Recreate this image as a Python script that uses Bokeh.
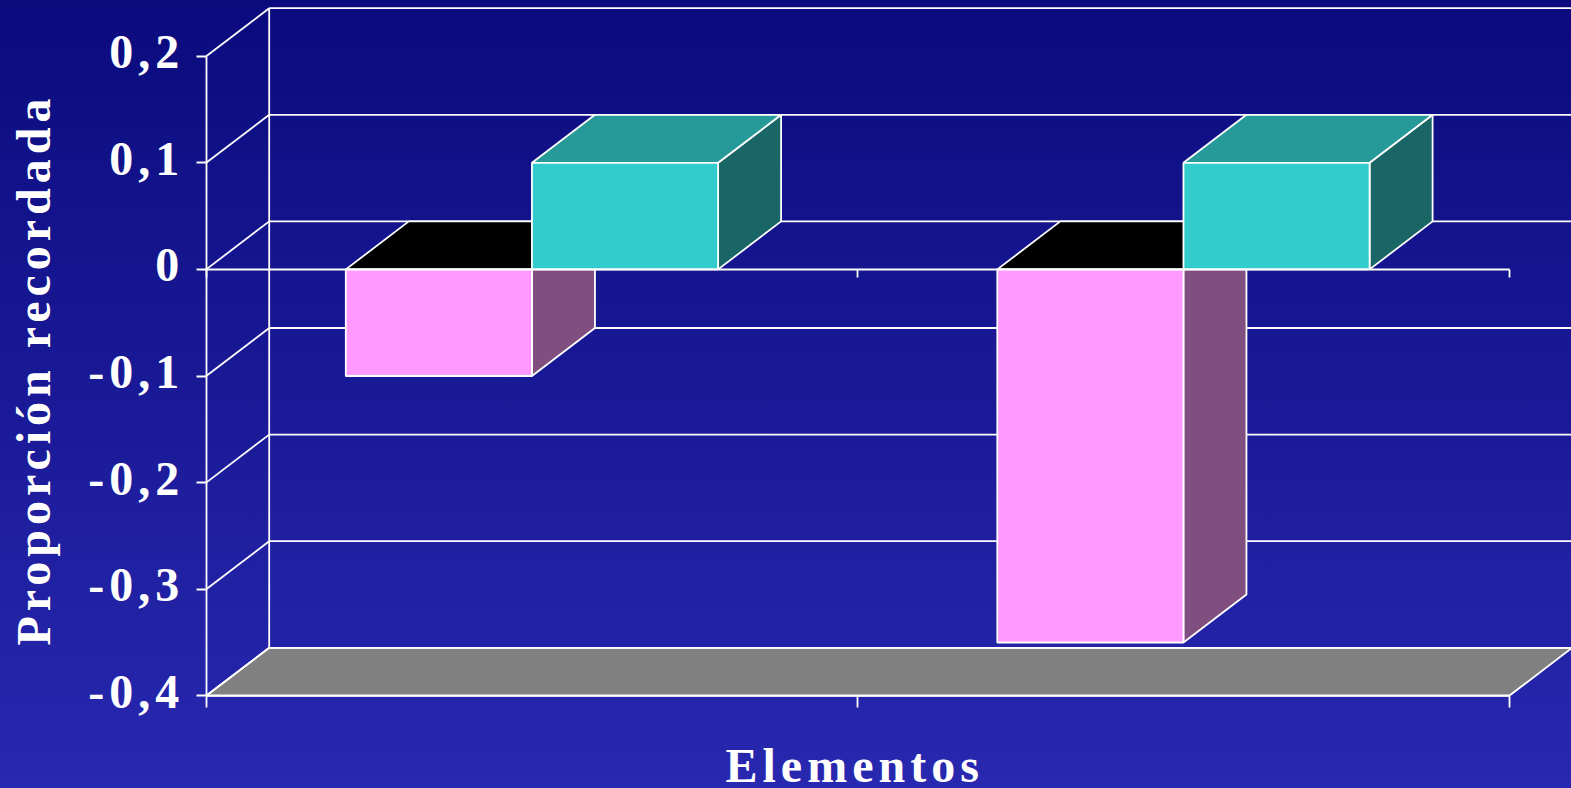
import math
from bokeh.plotting import figure
from bokeh.models import LinearAxis, FixedTicker, Range1d, Label
from bokeh.embed import file_html
from bokeh.resources import INLINE

categories = ["1", "2"]
pink_values = [-0.1, -0.35]
teal_values = [0.1, 0.1]
y_ticks = [0.2, 0.1, 0.0, -0.1, -0.2, -0.3, -0.4]
y_tick_labels = ["0,2", "0,1", "0", "-0,1", "-0,2", "-0,3", "-0,4"]
x_title = "Elementos"
y_title = "Proporción recordada"

PINK, PINK_SIDE, PINK_TOP = "#FF99FF", "#804F80", "#000000"
TEAL, TEAL_SIDE, TEAL_TOP = "#33CCCC", "#1A6666", "#269999"
FLOOR = "#808080"
WHITE = "#FFFFFF"
SERIF = "Liberation Serif"

PX_X = 651.5
PX_Y = 1066.0
W, H = 1571, 788
X0_PX = 205.7
Y_BOTTOM_PX = 695.3
DX = 63 / PX_X
DY = 48 / PX_Y
BAR = 1 / 3.5
GAP = 0.75 * BAR
Y_MIN, Y_MAX = -0.4, 0.2
LETTER = 5
FS = "48px"
LABEL_RAISE = 4 / PX_Y


def px_x(px):
    return (px - X0_PX) / PX_X


def px_y(px):
    return Y_MIN + (Y_BOTTOM_PX - px) / PX_Y


p = figure(
    width=W, height=H, output_backend="svg", toolbar_location=None,
    x_range=Range1d(px_x(0), px_x(W)),
    y_range=Range1d(px_y(H), px_y(0)),
    x_axis_type=None, y_axis_type=None,
    min_border=0,
    background_fill_alpha=0, border_fill_alpha=0, outline_line_color=None,
    styles={
        "position": "fixed", "left": "0px", "top": "0px",
        "background": "linear-gradient(180deg, #0B0B7E 0%, #2828B0 100%)",
        "letter-spacing": f"{LETTER}px",
    },
)
p.xgrid.visible = False
p.ygrid.visible = False

LW = 1.8
n_cat = len(categories)

# floor
p.patch([0, n_cat, n_cat + DX, DX], [Y_MIN, Y_MIN, Y_MIN + DY, Y_MIN + DY],
        fill_color=FLOOR, line_color=WHITE, line_width=LW)

# walls: back grid lines, side diagonals, back vertical
p.segment([DX] * len(y_ticks), [v + DY for v in y_ticks],
          [n_cat + DX] * len(y_ticks), [v + DY for v in y_ticks],
          line_color=WHITE, line_width=LW)
p.segment([0] * len(y_ticks), y_ticks, [DX] * len(y_ticks), [v + DY for v in y_ticks],
          line_color=WHITE, line_width=LW)
p.segment([DX], [Y_MIN + DY], [DX], [Y_MAX + DY], line_color=WHITE, line_width=LW)


def bar(x0, v, front, side, top):
    x1 = x0 + BAR
    lo, hi = min(v, 0), max(v, 0)
    p.patch([x1, x1 + DX, x1 + DX, x1], [lo, lo + DY, hi + DY, hi],
            fill_color=side, line_color=WHITE, line_width=LW)
    p.patch([x0, x0 + DX, x1 + DX, x1], [hi, hi + DY, hi + DY, hi],
            fill_color=top, line_color=WHITE, line_width=LW)
    p.quad(left=[x0], right=[x1], bottom=[lo], top=[hi],
           fill_color=front, line_color=WHITE, line_width=LW)


for i in range(n_cat):
    x0 = i + GAP
    bar(x0, pink_values[i], PINK, PINK_SIDE, PINK_TOP)
    bar(x0 + BAR, teal_values[i], TEAL, TEAL_SIDE, TEAL_TOP)

# y axis line and tick marks
p.add_layout(LinearAxis(
    fixed_location=0, bounds=(Y_MIN, Y_MAX), ticker=FixedTicker(ticks=y_ticks),
    major_label_overrides={v: "" for v in y_ticks},
    major_tick_in=0, major_tick_out=10, minor_tick_out=0, minor_tick_in=0,
    major_tick_line_color=WHITE, major_tick_line_width=LW,
    axis_line_color=WHITE, axis_line_width=LW,
), "left")


# tick labels: one axis per label length, since letter-spacing pushes longer labels right
def y_label_axis(keep, standoff):
    pairs = [(v + LABEL_RAISE, s) for v, s in zip(y_ticks, y_tick_labels) if keep(s)]
    p.add_layout(LinearAxis(
        fixed_location=0, ticker=FixedTicker(ticks=[t for t, _ in pairs]),
        major_label_overrides=dict(pairs),
        major_tick_in=0, major_tick_out=10, minor_tick_out=0, minor_tick_in=0,
        major_tick_line_color=None, axis_line_color=None,
        major_label_text_color=WHITE, major_label_text_font=SERIF,
        major_label_text_font_size=FS, major_label_text_font_style="bold",
        major_label_standoff=standoff,
    ), "left")


y_label_axis(lambda s: s == "0", 17)
y_label_axis(lambda s: s.startswith("0,"), 17 + 2 * LETTER)
y_label_axis(lambda s: s.startswith("-"), 17 + 3 * LETTER)

x_ticks = list(range(n_cat + 1))
blank = {t: "" for t in x_ticks}
for loc, out in ((Y_MIN, 12), (0, 8)):
    ax = LinearAxis(
        fixed_location=loc, bounds=(0, n_cat), ticker=FixedTicker(ticks=x_ticks),
        major_label_overrides=blank,
        major_tick_in=0, major_tick_out=out, minor_tick_out=0, minor_tick_in=0,
        major_tick_line_color=WHITE, major_tick_line_width=LW,
        axis_line_color=WHITE, axis_line_width=LW,
    )
    p.add_layout(ax, "below")

p.add_layout(Label(x=px_x(725), y=px_y(765), text=x_title, text_color=WHITE,
                   text_font=SERIF, text_font_size=FS, text_font_style="bold",
                   text_align="left", text_baseline="middle"))
p.add_layout(Label(x=px_x(33), y=px_y(645), text=y_title, text_color=WHITE,
                   text_font=SERIF, text_font_size=FS, text_font_style="bold",
                   text_align="left", text_baseline="middle", angle=math.pi / 2))

open("out.html", "w").write(file_html(p, INLINE))
